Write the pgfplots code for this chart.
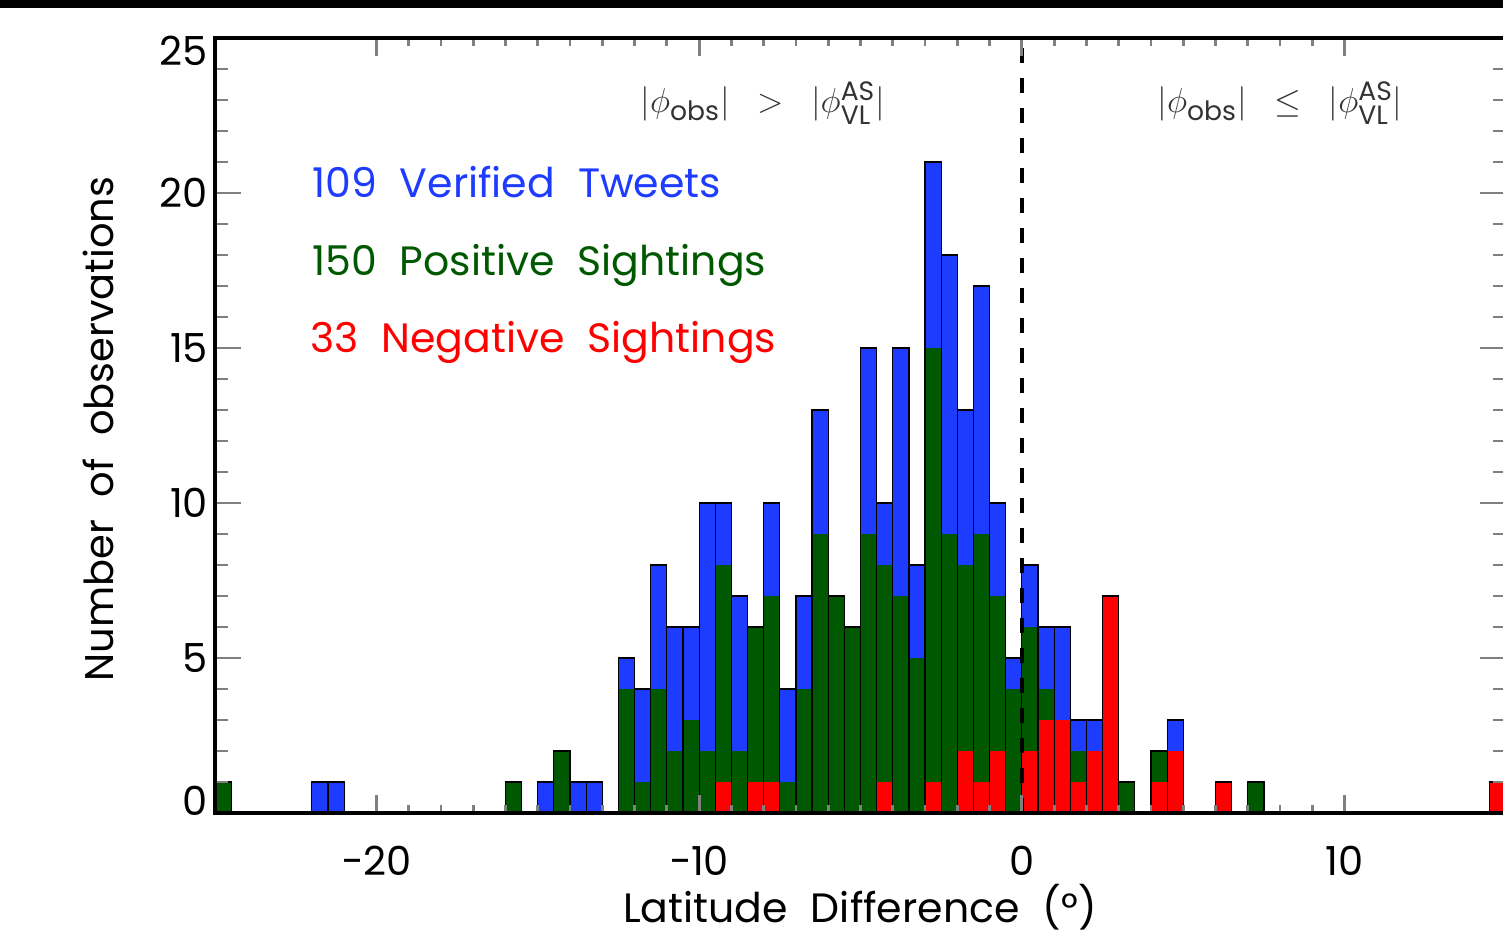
\documentclass[border=0pt]{standalone}
\usepackage{amsmath}
\usepackage{pgfplots}
\pgfplotsset{compat=1.18}
\usepackage{pgfplotstable}
\usepackage{fontspec}
\setmainfont{Poppins}[WordSpace=2.1]
\definecolor{vblue}{RGB}{30,60,255}
\definecolor{pgreen}{RGB}{0,88,0}
\definecolor{nred}{RGB}{255,0,0}

% bin centre, top of red (negative), top of green (positive), top of blue (verified)
\pgfplotstableread{
x      red green blue
-24.75 0 1 1
-21.75 0 0 1
-21.25 0 0 1
-15.75 0 1 1
-14.75 0 0 1
-14.25 0 2 2
-13.75 0 0 1
-13.25 0 0 1
-12.25 0 4 5
-11.75 0 1 4
-11.25 0 4 8
-10.75 0 2 6
-10.25 0 3 6
-9.75 0 2 10
-9.25 1 8 10
-8.75 0 2 7
-8.25 1 6 6
-7.75 1 7 10
-7.25 0 1 4
-6.75 0 4 7
-6.25 0 9 13
-5.75 0 7 7
-5.25 0 6 6
-4.75 0 9 15
-4.25 1 8 10
-3.75 0 7 15
-3.25 0 5 8
-2.75 1 15 21
-2.25 0 9 18
-1.75 2 8 13
-1.25 1 9 17
-0.75 2 7 10
-0.25 0 4 5
0.25 2 6 8
0.75 3 4 6
1.25 3 3 6
1.75 1 2 3
2.25 2 2 3
2.75 7 7 7
3.25 0 1 1
4.25 1 2 2
4.75 2 2 3
6.25 1 1 1
7.25 0 1 1
14.75 1 1 1
}\hist

\begin{document}
\begin{tikzpicture}
\path[use as bounding box] (-107.5pt,-62pt) rectangle (644pt,406.5pt);
\fill[black] (-107.5pt,402.5pt) rectangle (644pt,406.5pt);
\begin{axis}[
  scale only axis, width=645.5pt, height=387.5pt,
  xmin=-25, xmax=15, ymin=0, ymax=25,
  xtick={-20,-10,0,10}, xticklabels={−20,−10,0,10},
  minor x tick num=9,
  ytick={0,5,10,15,20,25},
  yticklabels={\raisebox{6pt}{0},5,10,15,20,\raisebox{-7pt}{25}},
  minor y tick num=4,
  tick align=inside,
  axis on top,
  axis line style={line width=1.8pt},
  xtick style={line width=1.4pt, /pgfplots/major tick length=9pt, /pgfplots/minor tick length=4pt},
  ytick style={line width=1.4pt, /pgfplots/major tick length=13pt, /pgfplots/minor tick length=6.5pt},
  tick label style={font=\fontsize{20}{24}\selectfont},
  xticklabel style={anchor=base, yshift=-31pt},
  yticklabel style={text height=14pt, text depth=0pt},
  xlabel={Latitude Difference (°)},
  ylabel={Number of observations},
  every axis x label/.style={at={(axis description cs:0.4996,-0.141)}, anchor=base, font=\fontsize{20.5}{24}\selectfont},
  every axis y label/.style={at={(axis description cs:-0.0906,0.4955)}, rotate=90, anchor=center, font=\fontsize{20}{24}\selectfont},
]
\addplot[ybar, bar width=0.5, bar shift=0pt, fill=vblue, draw=none] table[x=x, y=blue] {\hist};
\addplot[ybar, bar width=0.5, bar shift=0pt, fill=pgreen, draw=none] table[x=x, y=green] {\hist};
\addplot[ybar, bar width=0.5, bar shift=0pt, fill=nred, draw=none] table[x=x, y=red] {\hist};
\addplot[ybar, bar width=0.5, bar shift=0pt, fill=none, draw=black, line width=0.6pt] table[x=x, y=blue] {\hist};
\addplot[black, line width=1.8pt, dash pattern=on 7.5pt off 7.5pt] coordinates {(0,0) (0,25)};

\node[anchor=base west, inner sep=0pt, text=vblue, font=\fontsize{20.5}{24}\selectfont] at (axis cs:-22,19.87) {109 Verified Tweets};
\node[anchor=base west, inner sep=0pt, text=pgreen, font=\fontsize{20.5}{24}\selectfont] at (axis cs:-22,17.35) {150 Positive Sightings};
\node[anchor=base west, inner sep=0pt, text=nred, font=\fontsize{20.5}{24}\selectfont] at (axis cs:-22.06,14.84) {33 Negative Sightings};
\node[font=\fontsize{19}{22}\selectfont, text=black!80] at (axis cs:-8.03,22.9) {$|\phi_{\text{obs}}|\hspace{9pt}>\hspace{9pt}|\phi^{\text{AS}}_{\text{VL}}|$};
\node[font=\fontsize{19}{22}\selectfont, text=black!80] at (axis cs:8.0,22.9) {$|\phi_{\text{obs}}|\hspace{9pt}\leq\hspace{9pt}|\phi^{\text{AS}}_{\text{VL}}|$};
\end{axis}
\end{tikzpicture}
\end{document}
